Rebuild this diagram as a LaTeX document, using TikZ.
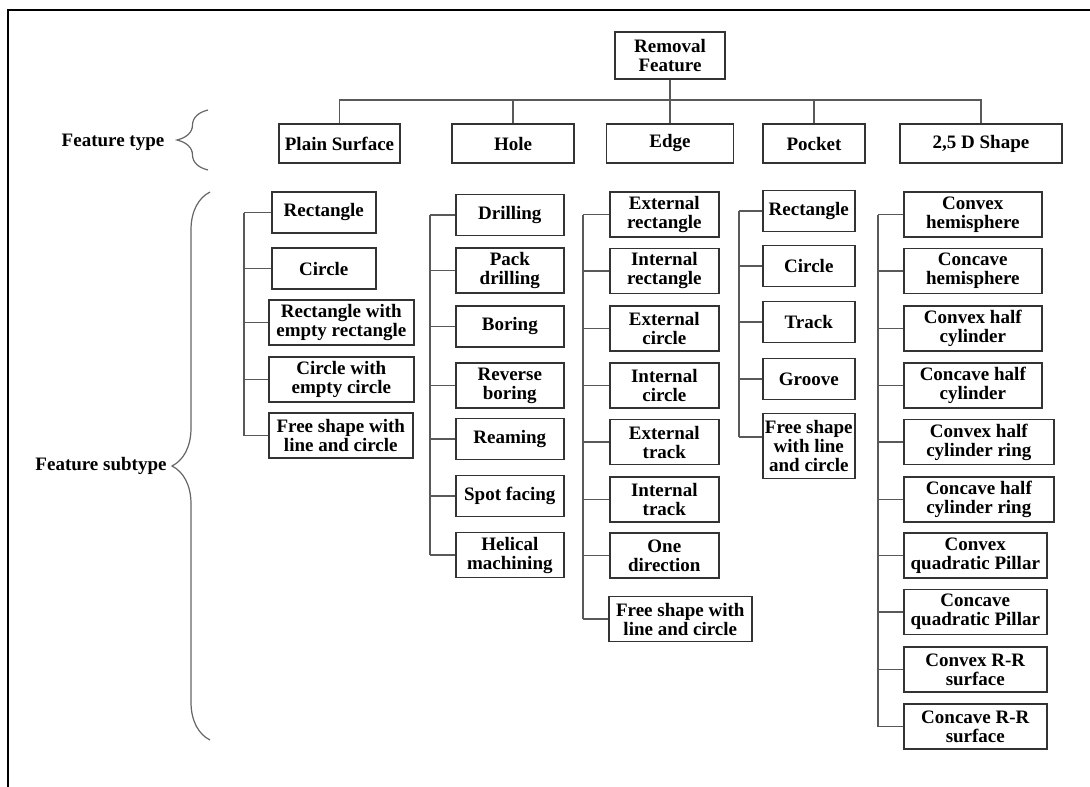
\documentclass[tikz,border=0pt]{standalone}
\usepackage{fontspec}
\setmainfont{Liberation Serif}
\usetikzlibrary{decorations.pathreplacing}

\begin{document}
\begin{tikzpicture}[x=1pt,y=-1pt,
  box/.style={draw=black!80,line width=1.6pt,align=center,inner xsep=2pt,inner ysep=1pt,
    font=\bfseries\fontsize{19}{19}\selectfont},
  feat/.style={box,minimum height=39pt},
  sub/.style={box,anchor=west,minimum height=45pt},
  one/.style={minimum height=41pt},
  link/.style={draw=black!65,line width=1.5pt},
  lbl/.style={font=\bfseries\fontsize{19}{19}\selectfont},
  brc/.style={draw=black!60,line width=1.2pt,decorate,decoration={brace,amplitude=#1}}]
\useasboundingbox (0,0) rectangle (1090,787);
\draw[line width=2.4pt] (8,787) -- (8,10) -- (1090,10);

\node[box,minimum width=110pt,minimum height=47pt] (root) at (670,55.5) {Removal\\Feature};
\node[feat,minimum width=121pt] (tps) at (339.5,143.5) {Plain Surface};
\node[feat,minimum width=122pt] (thole) at (513,143.5) {Hole};
\node[feat,minimum width=127pt] (tedge) at (670,143.5) {Edge};
\node[feat,minimum width=102pt] (tpocket) at (814,143.5) {Pocket};
\node[feat,minimum width=162pt] (tshape) at (981,143.5) {2,5 D Shape};
\coordinate (bus) at (670,100);
\draw[link] (root.south) -- (tedge.north);
\draw[link] (tps.north) -- (tps.north |- bus) -- (tshape.north |- bus) -- (tshape.north);
\foreach \t in {thole,tpocket} \draw[link] (\t.north) -- (\t.north |- bus);

\node[lbl] (ltype) at (113,142) {Feature type};
\node[lbl] (lsub) at (101,466) {Feature subtype};
\draw[brc=31pt] (208,170) -- (208,110);
\draw[brc=38pt] (210,740) -- (210,192);

% plain surface
\coordinate (tr1) at (244,0);
\node[sub,one,minimum width=104pt] (ps1) at (271,212.5) {Rectangle};
\node[sub,one,minimum width=104pt] (ps2) at (271,268.5) {Circle};
\node[sub,minimum width=145pt] (ps3) at (268,322.5) {Rectangle with\\empty rectangle};
\node[sub,minimum width=145pt] (ps4) at (268,379.5) {Circle with\\empty circle};
\node[sub,minimum width=144pt] (ps5) at (268,435.5) {Free shape with\\line and circle};
\draw[link] (ps1.west -| tr1) -- (ps5.west -| tr1);
\foreach \i in {1,...,5} \draw[link] (ps\i.west -| tr1) -- (ps\i.west);

% hole
\coordinate (tr2) at (430,0);
\node[sub,one,minimum width=108pt] (h1) at (455,215) {Drilling};
\node[sub,minimum width=108pt] (h2) at (455,270.5) {Pack\\drilling};
\node[sub,one,minimum width=108pt] (h3) at (455,326.5) {Boring};
\node[sub,minimum width=108pt] (h4) at (455,385.5) {Reverse\\boring};
\node[sub,one,minimum width=108pt] (h5) at (455,439) {Reaming};
\node[sub,one,minimum width=108pt] (h6) at (455,496) {Spot facing};
\node[sub,minimum width=108pt] (h7) at (455,555) {Helical\\machining};
\draw[link] (h1.west -| tr2) -- (h7.west -| tr2);
\foreach \i in {1,...,7} \draw[link] (h\i.west -| tr2) -- (h\i.west);

% edge
\coordinate (tr3) at (583,0);
\node[sub,minimum width=109pt] (e1) at (609,214.5) {External\\rectangle};
\node[sub,minimum width=109pt] (e2) at (609,271) {Internal\\rectangle};
\node[sub,minimum width=109pt] (e3) at (609,328.5) {External\\circle};
\node[sub,minimum width=109pt] (e4) at (609,385.5) {Internal\\circle};
\node[sub,minimum width=109pt] (e5) at (609,442) {External\\track};
\node[sub,minimum width=109pt] (e6) at (609,499.5) {Internal\\track};
\node[sub,minimum width=109pt] (e7) at (609,555.5) {One\\direction};
\node[sub,minimum width=143pt] (e8) at (608,619) {Free shape with\\line and circle};
\draw[link] (e1.west -| tr3) -- (e8.west -| tr3);
\foreach \i in {1,...,8} \draw[link] (e\i.west -| tr3) -- (e\i.west);

% pocket
\coordinate (tr4) at (739,0);
\node[sub,one,minimum width=92pt] (p1) at (762,211) {Rectangle};
\node[sub,one,minimum width=92pt] (p2) at (762,266) {Circle};
\node[sub,one,minimum width=92pt] (p3) at (762,322) {Track};
\node[sub,one,minimum width=92pt] (p4) at (762,379) {Groove};
\node[sub,minimum width=92pt,minimum height=65pt] (p5) at (762,446) {Free shape\\with line\\and circle};
\draw[link] (p1.west -| tr4) -- ([yshift=9pt]p5.west -| tr4);
\foreach \i in {1,...,4} \draw[link] (p\i.west -| tr4) -- (p\i.west);
\draw[link] ([yshift=9pt]p5.west -| tr4) -- ([yshift=9pt]p5.west);

% 2,5 D shape
\coordinate (tr5) at (878,0);
\node[sub,minimum width=138pt] (s1) at (903,214.5) {Convex\\hemisphere};
\node[sub,minimum width=138pt] (s2) at (903,271) {Concave\\hemisphere};
\node[sub,minimum width=138pt] (s3) at (903,328.5) {Convex half\\cylinder};
\node[sub,minimum width=138pt] (s4) at (903,385.5) {Concave half\\cylinder};
\node[sub,minimum width=150pt] (s5) at (903,442) {Convex half\\cylinder ring};
\node[sub,minimum width=150pt] (s6) at (903,499.5) {Concave half\\cylinder ring};
\node[sub,minimum width=143pt] (s7) at (903,555.5) {Convex\\quadratic Pillar};
\node[sub,minimum width=143pt] (s8) at (903,612) {Concave\\quadratic Pillar};
\node[sub,minimum width=143pt] (s9) at (903,669.5) {Convex R-R\\surface};
\node[sub,minimum width=143pt] (s10) at (903,726.5) {Concave R-R\\surface};
\draw[link] (s1.west -| tr5) -- (s10.west -| tr5);
\foreach \i in {1,...,10} \draw[link] (s\i.west -| tr5) -- (s\i.west);
\end{tikzpicture}
\end{document}
